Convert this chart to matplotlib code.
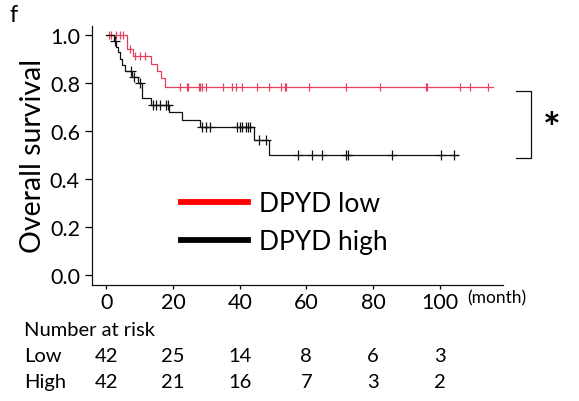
import numpy as np
import matplotlib
matplotlib.use("Agg")
import matplotlib.pyplot as plt
from matplotlib.lines import Line2D
import matplotlib.transforms as mtransforms

plt.rcParams['font.family'] = ['Lato', 'DejaVu Sans']

# ---- data ----
low_step_times = [0, 6.2, 8.0, 13.5, 15.2, 16.5, 17.5]
low_step_surv = [1.0, 0.94, 0.913, 0.88, 0.85, 0.82, 0.782]
low_end = 116
low_censor = [0.8, 1.5, 3.0, 4.0, 5.0, 7.0, 8.7, 10.0, 11.5, 22.0, 24.2, 24.5, 27.8, 28.2,
              28.8, 29.8, 35.0, 37.8, 39.0, 40.8, 45.2, 48.7, 52.5, 53.7, 54.0, 60.8,
              71.8, 82.2, 95.8, 96.2, 106.0, 109.2, 114.5]

high_step_times = [0, 2.2, 2.8, 3.4, 4.0, 4.7, 5.5, 7.8, 9.5, 10.8, 13.3, 18.8, 22.8, 28.0, 44.2, 48.8]
high_step_surv = [1.0, 0.976, 0.952, 0.928, 0.900, 0.876, 0.851, 0.823, 0.800, 0.737, 0.709,
                  0.677, 0.645, 0.615, 0.563, 0.500]
high_end = 105.5
high_censor = [2.5, 7.3, 8.2, 10.2, 14.0, 15.0, 16.2, 18.0, 18.5, 28.8, 30.0, 31.2, 39.2, 40.0,
               40.8, 41.8, 42.5, 43.2, 45.8, 48.0, 57.5, 61.8, 64.8, 72.0, 72.5, 85.8, 100.3, 104.2]

risk_times = [0, 20, 40, 60, 80, 100]
risk_low = [42, 25, 14, 8, 6, 3]
risk_high = [42, 21, 16, 7, 3, 2]

x_ticks = [0, 20, 40, 60, 80, 100]
y_ticks = [0.0, 0.2, 0.4, 0.6, 0.8, 1.0]
legend_labels = ["DPYD low", "DPYD high"]

RED = "#E5405E"
BLACK = "#111111"


def surv_at(times, surv, t):
    idx = np.searchsorted(np.asarray(times), np.asarray(t), side='right') - 1
    return np.asarray(surv)[idx]


W, H = 579, 402
fig = plt.figure(figsize=(W / 100, H / 100), dpi=100)
L, R, T, B = 91.7, 503, 27, 285.6
ax = fig.add_axes([L / W, 1 - B / H, (R - L) / W, (B - T) / H])

for times, surv, end, cens, col, mk, ms in [
        (low_step_times, low_step_surv, low_end, low_censor, RED, '|', 6),
        (high_step_times, high_step_surv, high_end, high_censor, BLACK, '+', 7)]:
    tt = list(times) + [end]
    ss = list(surv) + [surv[-1]]
    ax.step(tt, ss, where='post', color=col, lw=0.9)
    ax.plot(cens, surv_at(times, surv, cens), linestyle='none', marker=mk,
            markersize=ms, mew=0.9, color=col)

ax.set_xlim(-4.4, 119)
ax.set_ylim(-0.041, 1.0375)
ax.set_xticks(x_ticks)
ax.set_xticklabels([str(v) for v in x_ticks])
ax.set_yticks(y_ticks)
ax.set_yticklabels([f"{v:.1f}" for v in y_ticks])
for s in ['top', 'right']:
    ax.spines[s].set_visible(False)
for s in ['left', 'bottom']:
    ax.spines[s].set_linewidth(0.9)
    ax.spines[s].set_color('#111111')
ax.tick_params(axis='y', direction='out', length=5, width=0.9, pad=3.5, labelsize=15.5)
ax.tick_params(axis='x', direction='out', length=3, width=0.9, pad=2.5, labelsize=15.5)

ax.set_ylabel("Overall survival", fontsize=20.5, labelpad=3)

handles = [Line2D([], [], color='#FF0000', lw=4.2), Line2D([], [], color='#000000', lw=4.2)]
ax.legend(handles, legend_labels, loc='center left',
          bbox_to_anchor=((181 - L) / (R - L), (B - 223.7) / (B - T)),
          frameon=False, fontsize=19, handlelength=2.55, handletextpad=0.4,
          labelspacing=0.5, borderpad=0, borderaxespad=0)

# significance bracket
ax.plot([123, 127.5, 127.5, 123], [0.768, 0.768, 0.487, 0.487], color='#111111',
        lw=0.9, clip_on=False)
fig.text(552 / W, 1 - 131 / H, "*", fontsize=30, fontweight='bold', ha='center', va='center')

fig.text(10 / W, 1 - 16 / H, "f", fontsize=17, ha='left', va='center')
fig.text(467 / W, 1 - 298 / H, "(month)", fontsize=12.5, ha='left', va='center')

# number at risk
tr = mtransforms.blended_transform_factory(ax.transData, fig.transFigure)
fig.text(24 / W, 1 - 330 / H, "Number at risk", fontsize=14.5, ha='left', va='center')
fig.text(24 / W, 1 - 357 / H, "Low", fontsize=14.5, ha='left', va='center')
fig.text(24 / W, 1 - 383 / H, "High", fontsize=14.5, ha='left', va='center')
for t, lo, hi in zip(risk_times, risk_low, risk_high):
    fig.text(t, 1 - 357 / H, str(lo), transform=tr, fontsize=14.5, ha='center', va='center')
    fig.text(t, 1 - 383 / H, str(hi), transform=tr, fontsize=14.5, ha='center', va='center')

fig.savefig("out.png", dpi=100)
